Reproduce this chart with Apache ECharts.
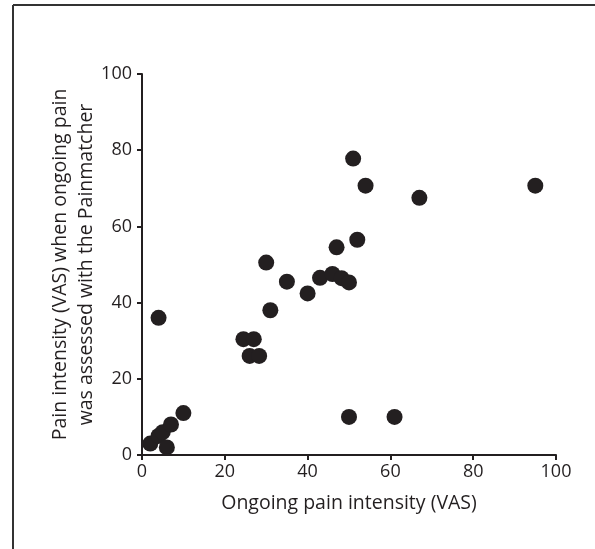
<!DOCTYPE html>
<html>
<head>
<meta charset="utf-8">
<script src="https://cdn.jsdelivr.net/npm/echarts@6/dist/echarts.min.js"></script>
<style>
  html, body { margin: 0; padding: 0; background: #fff; }
  #chart { width: 595px; height: 549px; }
</style>
</head>
<body>
<div id="chart"></div>
<script>
// ongoing pain (x) vs painmatcher pain (y)
const ongoingPain = [2, 4, 5, 6, 7, 10, 4, 24.5, 27, 26, 28.3, 30, 31, 35, 40, 43, 46, 48.2, 50, 47, 52, 51, 54, 67, 95, 50, 61]
const matcherPain = [3, 5, 6, 2, 8, 11, 36, 30.4, 30.4, 26, 26, 50.5, 38, 45.5, 42.4, 46.5, 47.5, 46.4, 45.3, 54.5, 56.5, 77.8, 70.7, 67.5, 70.7, 10, 10]
const xTicks = [0, 20, 40, 60, 80, 100]
const yTicks = [0, 20, 40, 60, 80, 100]

const ink = '#231f20'
const font = 'Open Sans'

const myChart = echarts.init(document.getElementById('chart'))

const option = {
  animation: false,
  backgroundColor: '#fff',
  grid: {
    left: 142,
    right: 39,
    top: 74,
    bottom: 94
  },
  // frame around the figure panel (left + top only)
  graphic: [
    { type: 'line', shape: { x1: 13, y1: 5, x2: 13, y2: 549 }, style: { stroke: '#333', lineWidth: 2 } },
    { type: 'line', shape: { x1: 13, y1: 5, x2: 595, y2: 5 }, style: { stroke: '#333', lineWidth: 2 } }
  ],
  xAxis: {
    type: 'value',
    min: xTicks[0],
    max: xTicks[xTicks.length - 1],
    interval: 20,
    name: 'Ongoing pain intensity (VAS)',
    nameLocation: 'middle',
    nameGap: 38,
    nameMoveOverlap: false,
    nameTextStyle: { color: ink, fontFamily: font, fontSize: 19.5 },
    splitLine: { show: false },
    axisLine: { show: true, lineStyle: { color: ink, width: 2 } },
    axisTick: { show: true, length: 5, lineStyle: { color: ink, width: 2 } },
    axisLabel: { color: ink, fontFamily: font, fontSize: 18, margin: 8 }
  },
  yAxis: {
    type: 'value',
    min: yTicks[0],
    max: yTicks[yTicks.length - 1],
    interval: 20,
    name: 'Pain intensity (VAS) when ongoing pain\nwas assessed with the Painmatcher',
    nameLocation: 'middle',
    nameRotate: 90,
    nameGap: 43,
    nameMoveOverlap: false,
    nameTextStyle: { color: ink, fontFamily: font, fontSize: 19.5, lineHeight: 25.5 },
    splitLine: { show: false },
    axisLine: { show: true, lineStyle: { color: ink, width: 2 } },
    axisTick: { show: true, length: 5, lineStyle: { color: ink, width: 2 } },
    axisLabel: { color: ink, fontFamily: font, fontSize: 18, margin: 10 }
  },
  series: [
    {
      type: 'scatter',
      symbol: 'circle',
      symbolSize: 16,
      itemStyle: { color: ink, opacity: 1 },
      data: ongoingPain.map((x, i) => [x, matcherPain[i]])
    }
  ]
}

myChart.setOption(option)
</script>
</body>
</html>
